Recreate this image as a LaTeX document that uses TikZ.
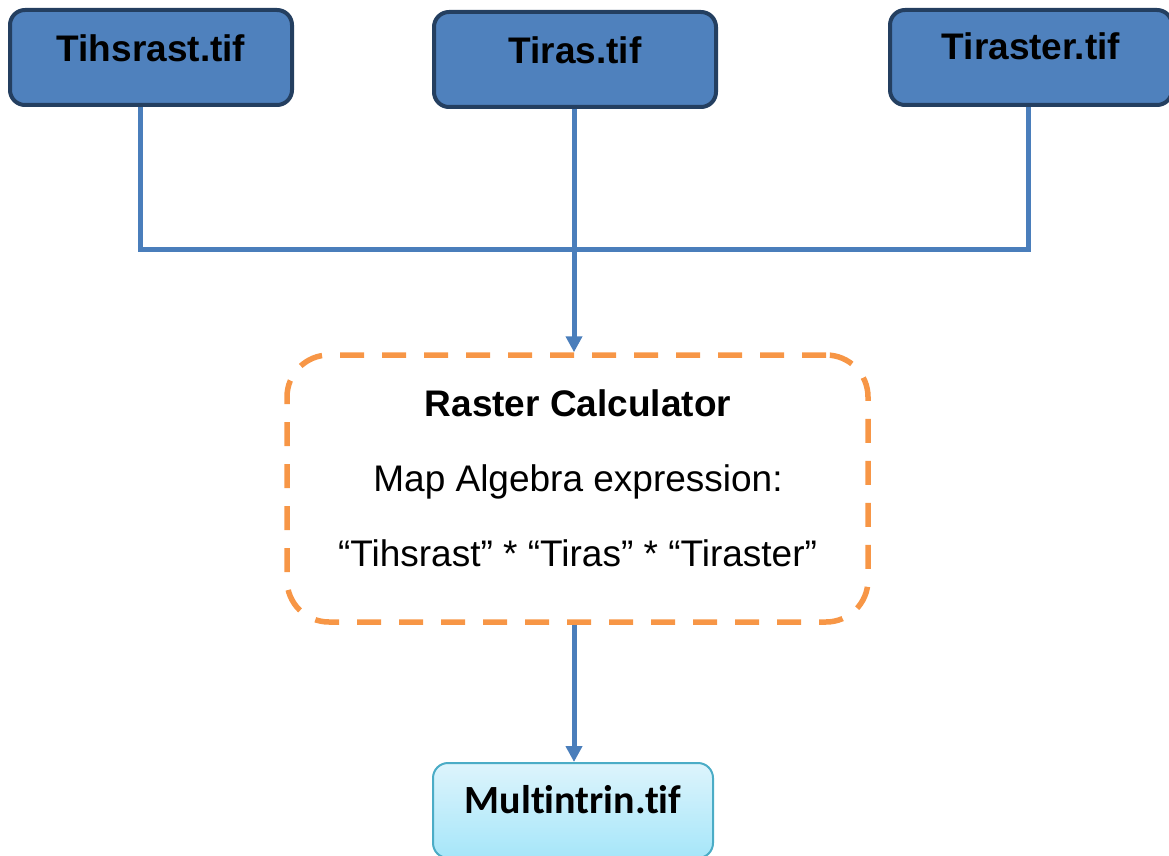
\documentclass[tikz,border=0pt]{standalone}
\usepackage{fontspec}
\setmainfont{Liberation Sans}
\newfontfamily\calfont[Ligatures=NoCommon]{Carlito}
\usetikzlibrary{arrows.meta}
\definecolor{rasterfill}{HTML}{4F81BD}
\definecolor{rasterline}{HTML}{243F60}
\definecolor{linkblue}{HTML}{4A7EBB}
\definecolor{calcorange}{HTML}{F79646}
\definecolor{outtop}{HTML}{DDF4FC}
\definecolor{outbot}{HTML}{A6E6F9}
\definecolor{outline}{HTML}{4BACC6}
\tikzset{
  inbox/.style={draw=rasterline, fill=rasterfill, line width=4pt, rounded corners=15pt,
    minimum width=282pt, minimum height=95pt, inner sep=0pt},
  outbox/.style={draw=outline, top color=outtop, bottom color=outbot, line width=2pt,
    rounded corners=15pt, minimum width=280pt, minimum height=95pt, inner sep=0pt},
  calcbox/.style={draw=calcorange, line width=5.5pt, dash pattern=on 24pt off 18pt,
    rounded corners=42pt, minimum width=581pt, minimum height=267pt, inner sep=0pt},
  boxlabel/.style={font=\fontsize{37}{44}\selectfont\bfseries, inner sep=0pt},
  calctext/.style={font=\fontsize{37}{44}\selectfont, inner sep=0pt},
  link/.style={draw=linkblue, line width=5pt},
  flow/.style={link, -{Triangle[length=16pt,width=16pt]}}
}
\begin{document}
\begin{tikzpicture}[x=1pt,y=-1pt]
\useasboundingbox (0,0) rectangle (1169,856);

% input rasters
\node[inbox] (a) at (151,57.5) {};
\node[inbox] (b) at (575,59.5) {};
\node[inbox] (c) at (1031,57.5) {};
\node[boxlabel] at ([yshift=9.5pt]a.center) {Tihsrast.tif};
\node[boxlabel] at ([yshift=9.5pt]b.center) {Tiras.tif};
\node[boxlabel] at ([yshift=11.5pt]c.center) {Tiraster.tif};

% raster calculator step
\node[calcbox] (calc) at (577.5,488.5) {};
\node[calctext, font=\fontsize{37}{44}\selectfont\bfseries] (t1) at (578,403) {Raster Calculator};
\node[calctext] (t2) at (578,482) {Map Algebra expression:};
\node[calctext] (t3) at (577.5,553) {“Tihsrast” * “Tiras” * “Tiraster”};

% output raster
\node[outbox] (out) at (573,810.5) {};
\node[font=\calfont\fontsize{40}{48}\selectfont\bfseries, inner sep=0pt] at (573,800) {Multintrin.tif};

% connectors
\coordinate (j) at (574,249.5);
\draw[link] (a.south -| 140,0) |- (j) -| (c.south -| 1028,0);
\draw[flow] (b.south -| 574,0) -- (calc.north -| 574,0);
\draw[flow] (calc.south -| 574,0) -- (out.north -| 574,0);
\end{tikzpicture}
\end{document}
